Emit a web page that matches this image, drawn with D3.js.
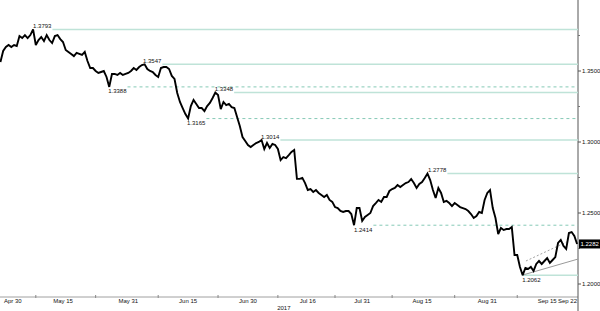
<!DOCTYPE html>
<html><head><meta charset="utf-8">
<script src="https://cdn.jsdelivr.net/npm/d3@7/dist/d3.min.js"></script>
<style>
html,body{margin:0;padding:0;background:#fff;}
svg{display:block;font-family:"Liberation Sans",Arial,sans-serif;}
</style></head>
<body><svg id="chart" width="600" height="311"></svg>
<script>
// ---- data (trading-day index, 0 = May 1 2017, weekends removed) ----
const startDay = -1.5;
const stepDays = 0.5;
const values = [
1.3563,1.3641,1.3669,1.3683,1.3669,1.3683,1.3676,1.3746,1.3732,1.3753,
1.3732,1.3753,1.3793,1.3683,1.3718,1.3739,1.3711,1.3753,1.3718,1.3697,
1.3746,1.3753,1.3725,1.3704,1.3648,1.3634,1.3620,1.3605,1.3627,1.3620,
1.3613,1.3634,1.3570,1.3521,1.3521,1.3500,1.3486,1.3493,1.3500,1.3458,
1.3388,1.3479,1.3479,1.3472,1.3486,1.3472,1.3479,1.3486,1.3500,1.3521,
1.3507,1.3528,1.3542,1.3547,1.3514,1.3500,1.3493,1.3472,1.3458,1.3521,
1.3528,1.3528,1.3514,1.3465,1.3444,1.3345,1.3282,1.3239,1.3197,1.3165,
1.3253,1.3296,1.3268,1.3239,1.3239,1.3218,1.3253,1.3275,1.3310,1.3348,
1.3331,1.3232,1.3282,1.3260,1.3268,1.3246,1.3239,1.3176,1.3113,1.3035,
1.3007,1.2979,1.2965,1.2979,1.2993,1.3000,1.3014,1.2951,1.2993,1.2958,
1.2986,1.2979,1.2951,1.2873,1.2894,1.2887,1.2908,1.2930,1.2944,1.2740,
1.2740,1.2747,1.2711,1.2662,1.2669,1.2648,1.2662,1.2641,1.2627,1.2613,
1.2627,1.2592,1.2578,1.2542,1.2535,1.2514,1.2507,1.2514,1.2514,1.2493,
1.2414,1.2535,1.2535,1.2444,1.2472,1.2486,1.2500,1.2549,1.2570,1.2592,
1.2578,1.2613,1.2613,1.2655,1.2669,1.2676,1.2697,1.2683,1.2697,1.2711,
1.2718,1.2739,1.2711,1.2676,1.2704,1.2718,1.2746,1.2778,1.2732,1.2662,
1.2606,1.2676,1.2641,1.2578,1.2585,1.2570,1.2549,1.2570,1.2556,1.2542,
1.2535,1.2528,1.2514,1.2493,1.2465,1.2479,1.2507,1.2500,1.2592,1.2641,
1.2662,1.2535,1.2465,1.2352,1.2394,1.2380,1.2387,1.2387,1.2401,1.2204,
1.2204,1.2120,1.2062,1.2113,1.2106,1.2120,1.2092,1.2141,1.2162,1.2141,
1.2162,1.2183,1.2148,1.2169,1.2190,1.2289,1.2310,1.2268,1.2247,1.2359,
1.2366,1.2338,1.2282
];
const lastValue = 1.2282;

// x-axis labels and their trading-day index
const xLabels = ["Apr 30","May 15","May 31","Jun 15","Jun 30","Jul 16","Jul 31","Aug 15","Aug 31","Sep 15","Sep 22"];
const xLabelDays = [0,10,22,33,44,55,65,76,88,99,104];
const yearLabel = "2017";
const yearDay = 50.6;

// y-axis
const yTicks = [1.20,1.25,1.30,1.35];
const yMinorTicks = [1.225,1.275,1.325,1.375];

// annotated levels
const levels     = [1.3793,1.3547,1.3388,1.3348,1.3165,1.3014,1.2778,1.2414,1.2062];
const levelKinds = ["high","high","low","high","low","high","high","low","low"];
const levelDash  = [false,false,true,false,true,false,false,true,false];
const levelDays  = [4.5,24.7,18.3,37.9,32.8,46.4,77.1,63.5,94.4];

// trend channel (day, value)
const supportLine = [[94.4,1.2062],[104.7,1.2176]];
const channelLine = [[95.1,1.2162],[102.6,1.2296]];

// ---- layout ----
const svg = d3.select("#chart");
const axisX = 578, axisY = 297;
const x = d3.scaleLinear().domain([0,104]).range([8.6, 8.6 + 5.44*104]);
const y = d3.scaleLinear().domain([1.20,1.35]).range([284,71]);

const solidCol = "#bfe3d8", dashCol = "#86c9b6";

// x axis line
svg.append("line").attr("x1",0).attr("x2",axisX).attr("y1",axisY).attr("y2",axisY)
  .attr("stroke","#a0a0a0").attr("stroke-width",1);
// right axis line
svg.append("line").attr("x1",axisX).attr("x2",axisX).attr("y1",0).attr("y2",311)
  .attr("stroke","#555").attr("stroke-width",1);

// level lines + labels
const fs = 6;
levels.forEach((v,k)=>{
  const lx = x(levelDays[k]);
  const ly = y(v);
  const t = svg.append("text").attr("x",lx).attr("font-size",fs).attr("fill","#111")
    .attr("y", levelKinds[k]==="high" ? ly-1.5 : ly+6.5).text(d3.format(".4f")(v));
  const w = t.node().getComputedTextLength();
  const x1 = (k===levels.length-1) ? lx : lx + w + 1;
  svg.insert("line","text").attr("x1",x1).attr("x2",axisX).attr("y1",ly).attr("y2",ly)
    .attr("stroke", levelDash[k]?dashCol:solidCol)
    .attr("stroke-width", levelDash[k]?1:1.5)
    .attr("stroke-dasharray", levelDash[k]?"3,3":null);
});

// trend lines
const tl = d3.line().x(d=>x(d[0])).y(d=>y(d[1]));
svg.append("path").attr("d",tl(supportLine)).attr("fill","none").attr("stroke","#9a9a9a").attr("stroke-width",1);
svg.append("path").attr("d",tl(channelLine)).attr("fill","none").attr("stroke","#8a8a8a").attr("stroke-width",0.8).attr("stroke-dasharray","2,2");

// price line
const line = d3.line().x((d,i)=>x(startDay + i*stepDays)).y(d=>y(d));
svg.append("path").datum(values).attr("d",line).attr("fill","none")
  .attr("stroke","#000").attr("stroke-width",1.9).attr("stroke-linejoin","miter").attr("stroke-miterlimit",3);

// y ticks
yTicks.forEach(v=>{
  svg.append("line").attr("x1",axisX).attr("x2",axisX+3).attr("y1",y(v)).attr("y2",y(v)).attr("stroke","#555");
  svg.append("text").attr("x",axisX+4).attr("y",y(v)+2).attr("font-size",fs).attr("fill","#111").text(d3.format(".4f")(v));
});
yMinorTicks.forEach(v=>{
  svg.append("line").attr("x1",axisX).attr("x2",axisX+2).attr("y1",y(v)).attr("y2",y(v)).attr("stroke","#777");
});

// last value box
svg.append("rect").attr("x",axisX+1).attr("y",y(lastValue)-4.5).attr("width",21).attr("height",9).attr("fill","#000");
svg.append("text").attr("x",axisX+2.5).attr("y",y(lastValue)+2).attr("font-size",fs).attr("fill","#fff").text(d3.format(".4f")(lastValue));

// x tick marks at midpoints between labels
for(let k=0;k<xLabelDays.length-2;k++){
  const mx = x((xLabelDays[k]+xLabelDays[k+1])/2);
  svg.append("line").attr("x1",mx).attr("x2",mx).attr("y1",axisY-2).attr("y2",axisY+1).attr("stroke","#888");
}
// x labels
xLabels.forEach((s,k)=>{
  const t = svg.append("text").attr("font-size",fs).attr("fill","#111").attr("y",303).text(s);
  const w = t.node().getComputedTextLength();
  let cx = x(xLabelDays[k]);
  cx = Math.max(w/2+4, Math.min(axisX - w/2 - 1, cx));
  t.attr("x",cx).attr("text-anchor","middle");
});
svg.append("text").attr("x",x(yearDay)).attr("y",309.5).attr("font-size",fs).attr("fill","#111")
  .attr("text-anchor","middle").text(yearLabel);
</script></body></html>
